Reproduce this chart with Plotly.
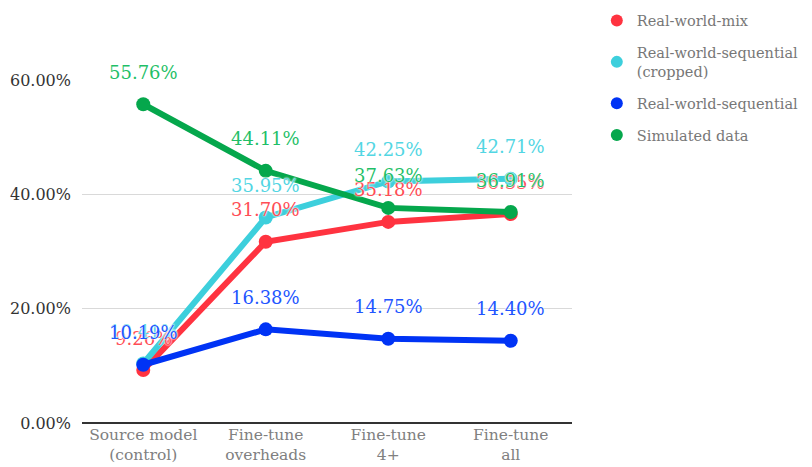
import plotly.graph_objects as go

categories = ["Source model<br>(control)", "Fine-tune<br>overheads", "Fine-tune<br>4+", "Fine-tune<br>all"]
series_names = ["Real-world-mix", "Real-world-sequential<br>(cropped)", "Real-world-sequential", "Simulated data"]
real_mix = [9.26, 31.70, 35.18, 36.55]
real_seq_cropped = [10.41, 35.95, 42.25, 42.71]
real_seq = [10.19, 16.38, 14.75, 14.40]
simulated = [55.76, 44.11, 37.63, 36.91]
y_ticks = [0, 20, 40, 60]

series = [real_mix, real_seq_cropped, real_seq, simulated]
line_colors = ["#ff3340", "#3dcfdc", "#0033f5", "#05a74c"]
label_colors = ["#ff4d55", "#52d6e3", "#2255ff", "#1fbf68"]

FONT = "DejaVu Serif"
xs = list(range(len(categories)))

fig = go.Figure()
for vals, lc in zip(series, line_colors):
    fig.add_trace(go.Scatter(x=xs, y=vals, mode="lines+markers",
                             line=dict(color=lc, width=6),
                             marker=dict(color=lc, size=14),
                             showlegend=False, hoverinfo="skip"))
for i, (name, lc) in enumerate(zip(series_names, line_colors)):
    fig.add_trace(go.Scatter(x=[None], y=[None], mode="markers", name=name,
                             legendgroup=f"g{i}",
                             marker=dict(color=lc, size=18)))

for vals, tc in zip(series, label_colors):
    for xi, v in zip(xs, vals):
        fig.add_annotation(x=xi, y=v, text=f"{v:.2f}%", showarrow=False,
                           yshift=32, font=dict(family=FONT, size=18, color=tc,
                                                shadow="0 0 2px white, 0 0 2px white"))

fig.update_layout(
    width=812, height=467,
    margin=dict(l=82, r=240, t=80, b=44, autoexpand=False),
    plot_bgcolor="white", paper_bgcolor="white",
    font=dict(family=FONT, size=15, color="#333"),
    legend=dict(xref="container", yref="container", x=0.735, y=0.99,
                xanchor="left", yanchor="top",
                font=dict(family=FONT, size=14.5, color="#777"),
                tracegroupgap=10, itemsizing="constant"),
)
fig.update_xaxes(tickmode="array", tickvals=xs, ticktext=categories,
                 range=[-0.5, 3.5], showgrid=False, zeroline=False,
                 tickfont=dict(family=FONT, size=15.5, color="#808080"),
                 ticks="", showline=False, automargin=False)
fig.update_yaxes(range=[0, 60], tickmode="array", tickvals=y_ticks,
                 ticktext=[f"{t:.2f}%" for t in y_ticks],
                 showgrid=True, gridcolor="#d9d9d9", gridwidth=1,
                 zeroline=True, zerolinecolor="#333", zerolinewidth=1.5,
                 tickfont=dict(family=FONT, size=16, color="#333"),
                 ticks="", ticklabelstandoff=10, automargin=False)
fig.write_html("out.html")
